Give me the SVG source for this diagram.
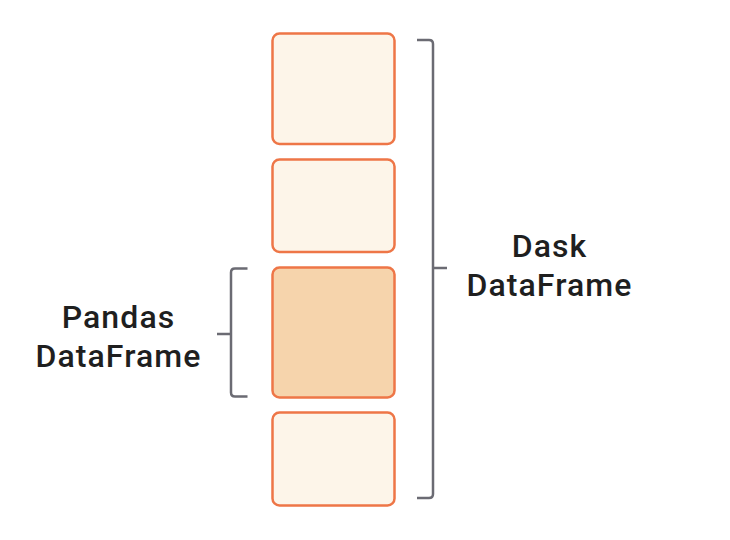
<svg xmlns="http://www.w3.org/2000/svg" width="730" height="540" viewBox="0 0 730 540">
<style>
.box{fill:#FDF5E9;stroke:#EE7647;stroke-width:2.5}
.hl{fill:#F6D4AC}
.br{fill:none;stroke:#6B6B73;stroke-width:2.5}
.lbl{font-family:Roboto,"Liberation Sans",sans-serif;font-size:32px;font-weight:500;letter-spacing:1.1px;fill:#1f1f1f;text-anchor:middle}
</style>
<rect width="730" height="540" fill="#fff"/>
<g id="part1"><rect class="box" x="272.5" y="33.5" width="122" height="110.5" rx="7"/></g>
<g id="part2"><rect class="box" x="272.5" y="159.5" width="122" height="92.5" rx="7"/></g>
<g id="part3"><rect class="box hl" x="272.5" y="267.5" width="122" height="130" rx="7"/></g>
<g id="part4"><rect class="box" x="272.5" y="412.5" width="122" height="93" rx="7"/></g>
<g id="connectors">
<path class="br" d="M417,40 H429 Q433,40 433,44 V494 Q433,498 429,498 H417 M433,268 H447"/>
<path class="br" d="M247.5,268.5 H235 Q231,268.5 231,272.5 V392.5 Q231,396.5 235,396.5 H247.5 M217,334 H231"/>
</g>
<g id="dask"><text class="lbl" x="549.5" y="256.5">Dask</text><text class="lbl" x="549.5" y="296">DataFrame</text></g>
<g id="pandas"><text class="lbl" x="118.5" y="327.5">Pandas</text><text class="lbl" x="118.5" y="367">DataFrame</text></g>
</svg>
